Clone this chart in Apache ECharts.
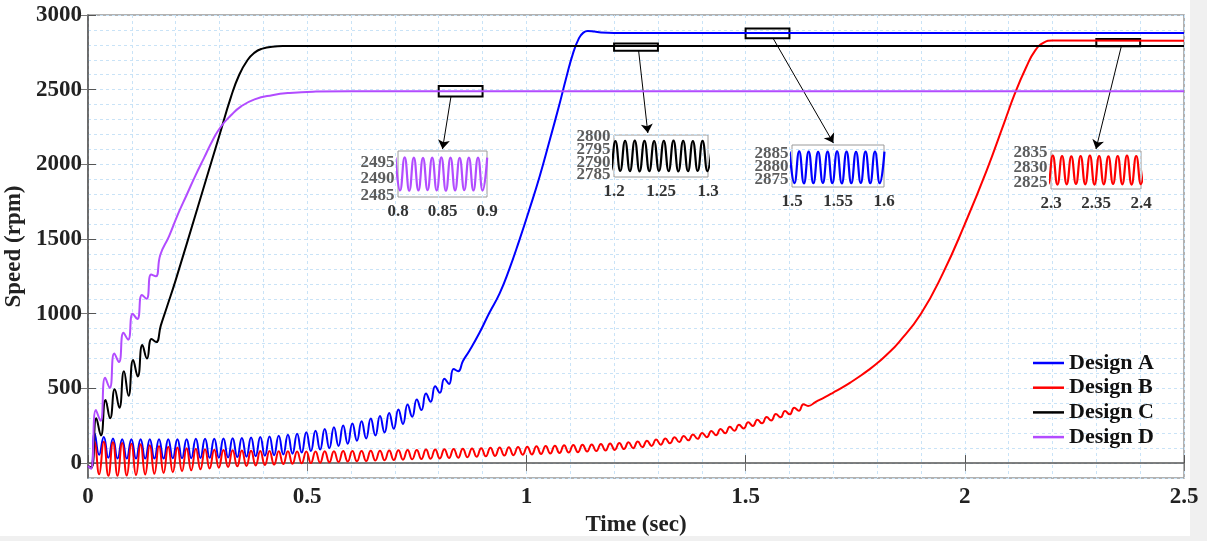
<!DOCTYPE html>
<html>
<head>
<meta charset="utf-8">
<script src="https://cdn.jsdelivr.net/npm/echarts@6/dist/echarts.min.js"></script>
<style>
  html, body { margin: 0; padding: 0; background: #fff; }
  #chart { width: 1207px; height: 541px; }
</style>
</head>
<body>
<div id="chart"></div>
<script>
var seriesNames = ['Design A', 'Design B', 'Design C', 'Design D'];
var seriesColors = ['#0000ff', '#ff0000', '#000000', '#b24cff'];

var xTickLabels = [0, 0.5, 1, 1.5, 2, 2.5];
var yTickLabels = [0, 500, 1000, 1500, 2000, 2500, 3000];

// ripple: the osc arrays hold one peak or trough every half period (s)
var halfPeriod = 0.0105;

// Design A
var designA_start = [[0, -20], [0.007, -32]];
var designA_oscT0 = 0.015;
var designA_osc = [200, 55, 175, 35, 165, 30, 160, 30, 160, 30, 160, 30, 160, 30, 160, 30,
  160, 32, 160, 32, 160, 33, 162, 34, 162, 35, 163, 36, 164, 38, 166, 40, 168, 43, 171, 46,
  174, 49, 178, 53, 183, 58, 190, 63, 197, 70, 207, 80, 217, 90, 228, 100, 240, 115, 252, 130,
  265, 150, 280, 165, 298, 185, 315, 205, 335, 230, 358, 262, 392, 310, 425, 355, 465, 410,
  515, 470, 565, 530, 630, 615, 682];
var designA_end = [[0.87, 752], [0.893, 872], [0.915, 1003], [0.939, 1136], [0.96, 1290],
  [0.984, 1493], [1.007, 1700], [1.03, 1917], [1.053, 2160], [1.076, 2409], [1.09, 2570],
  [1.106, 2740], [1.12, 2845], [1.13, 2882], [1.14, 2893], [1.155, 2889], [1.17, 2883],
  [1.2, 2880], [1.6, 2880], [2.5, 2880]];

// Design B
var designB_start = [[0, -20], [0.007, -35]];
var designB_oscT0 = 0.015;
var designB_osc = [145, -75, 143, -85, 139, -85, 135, -83, 130, -80, 126, -76, 120, -72,
  115, -67, 110, -61, 104, -54, 100, -48, 96, -41, 92, -36, 89, -31, 87, -26, 85, -22, 84, -19,
  82, -16, 80, -13, 80, -10, 79, -7, 79, -5, 78, -2, 78, 0, 78, 2, 79, 5, 79, 7, 80, 10, 80, 12,
  81, 14, 82, 17, 83, 19, 84, 21, 85, 23, 87, 25, 88, 27, 90, 29, 91, 31, 93, 34, 95, 36,
  96, 39, 98, 42, 100, 45, 102, 48, 104, 50, 106, 53, 108, 56, 110, 58, 112, 61, 114, 64,
  116, 67, 119, 70, 121, 73, 123, 77, 125, 80, 128, 84, 131, 88, 134, 94, 139, 100, 144, 107,
  150, 115, 157, 123, 164, 132, 173, 141, 182, 152, 192, 162, 202, 173, 215, 187, 228, 200,
  243, 216, 257, 231, 273, 248, 290, 266, 308, 285, 328, 306, 348, 326, 370, 350, 394, 382];
var designB_end = [[1.66, 410], [1.68, 440], [1.7, 472], [1.72, 505], [1.74, 541], [1.76, 580],
  [1.78, 622], [1.8, 668], [1.82, 720], [1.85, 810], [1.9, 1000], [1.95, 1270], [2.0, 1600],
  [2.05, 1960], [2.09, 2280], [2.115, 2480], [2.14, 2650], [2.16, 2760], [2.18, 2815],
  [2.2, 2829], [2.5, 2828]];

// Design C
var designC_start = [[0, -20], [0.008, -30]];
var designC_oscT0 = 0.019;
var designC_osc = [300, 185, 422, 300, 495, 370, 615, 450, 690, 580, 790, 700, 830, 810, 920];
var designC_end = [[0.18, 1045], [0.2, 1225], [0.25, 1710], [0.3, 2197], [0.326, 2450],
  [0.345, 2600], [0.364, 2699], [0.38, 2748], [0.395, 2772], [0.42, 2788], [0.45, 2792],
  [0.5, 2793], [2.5, 2793]];

// Design D
var designD_start = [[0, -20], [0.007, -38]];
var designD_oscT0 = 0.018;
var designD_osc = [355, 283, 572, 503, 734, 676, 872, 826, 1000, 964, 1126, 1100, 1262, 1250, 1395];
var designD_end = [[0.185, 1520], [0.205, 1665], [0.225, 1795], [0.245, 1925], [0.265, 2045],
  [0.285, 2165], [0.303, 2252], [0.325, 2325], [0.35, 2390], [0.38, 2435], [0.42, 2463],
  [0.46, 2478], [0.52, 2487], [0.6, 2490], [2.5, 2490]];

// zoomed windows (steady ripple), one value every inset step
var insetStep = 0.00515;
var insetD_t0 = 0.7972;
var insetD = [2496.5, 2486.5, 2496.6, 2486.4, 2496.5, 2486.5, 2496.4, 2486.6, 2496.5, 2486.5,
  2496.6, 2486.4, 2496.5, 2486.5, 2496.4, 2486.6, 2496.5, 2486.5, 2496.5, 2486.5, 2496.5];
var insetD_ticks = [2485, 2490, 2495];
var insetC_t0 = 1.1912;
var insetC = [2798.5, 2786.5, 2798.4, 2786.6, 2798.5, 2786.5, 2798.6, 2786.4, 2798.5, 2786.5,
  2798.4, 2786.6, 2798.5, 2786.5, 2798.6, 2786.4, 2798.5, 2786.5, 2798.4, 2786.6, 2798.5, 2786.5, 2798.5];
var insetC_ticks = [2785, 2790, 2795, 2800];
var insetA_t0 = 1.4975;
var insetA = [2886, 2873.5, 2886.1, 2873.4, 2886, 2873.5, 2885.9, 2873.6, 2886, 2873.5,
  2886.1, 2873.4, 2886, 2873.5, 2885.9, 2873.6, 2886, 2873.5, 2886, 2873.5, 2886];
var insetA_ticks = [2875, 2880, 2885];
var insetB_t0 = 2.2917;
var insetB = [2834, 2824.4, 2834.1, 2824.3, 2834, 2824.4, 2833.9, 2824.5, 2834, 2824.4,
  2834.1, 2824.3, 2834, 2824.4, 2833.9, 2824.5, 2834, 2824.4, 2834.1, 2824.3, 2834, 2824.4, 2834];
var insetB_ticks = [2825, 2830, 2835];

function buildCurve(start, t0, osc, end) {
  var pts = start.slice();
  osc.forEach(function (v, i) {
    pts.push([+(t0 + i * halfPeriod).toFixed(4), v]);
  });
  return pts.concat(end);
}

function buildInset(t0, vals) {
  return vals.map(function (v, i) { return [+(t0 + i * insetStep).toFixed(5), v]; });
}

function plain(v) { return String(v); }

var mainData = [
  buildCurve(designA_start, designA_oscT0, designA_osc, designA_end),
  buildCurve(designB_start, designB_oscT0, designB_osc, designB_end),
  buildCurve(designC_start, designC_oscT0, designC_osc, designC_end),
  buildCurve(designD_start, designD_oscT0, designD_osc, designD_end)
];

var FONT = "'Liberation Serif', 'Times New Roman', serif";
var gridColor = '#c9e3f7';

// inset layout: which design, window, pixel box, highlight rectangle and arrow anchor
var insets = [
  { s: 3, data: buildInset(insetD_t0, insetD), x: [0.8, 0.9], y: [2484.5, 2498.5], yLabels: insetD_ticks,
    box: { left: 398, top: 151, width: 89, height: 46 }, rect: [2455, 2525], from: [0.828, 2455], to: 0.85 },
  { s: 2, data: buildInset(insetC_t0, insetC), x: [1.2, 1.3], y: [2784.2, 2800.8], yLabels: insetC_ticks,
    box: { left: 614, top: 135, width: 94, height: 42 }, rect: [2760, 2810], from: [1.256, 2760], to: 1.236 },
  { s: 0, data: buildInset(insetA_t0, insetA), x: [1.5, 1.6], y: [2872, 2888.6], yLabels: insetA_ticks,
    box: { left: 792, top: 145, width: 92, height: 42 }, rect: [2845, 2910], from: [1.5625, 2845], to: 1.545 },
  { s: 1, data: buildInset(insetB_t0, insetB), x: [2.3, 2.4], y: [2822.8, 2835.7], yLabels: insetB_ticks,
    box: { left: 1051, top: 151, width: 90, height: 38 }, rect: [2790, 2840], from: [2.357, 2790], to: 2.35 }
];

var labelStyle = { fontFamily: FONT, fontWeight: 'bold', color: '#222' };

var grids = [{ left: 88, top: 15, right: 23, bottom: 63, show: true, borderColor: '#999', borderWidth: 1.5,
  outerBoundsMode: 'none', containLabel: false }];
var xAxes = [
  { gridIndex: 0, type: 'value', position: 'bottom', min: 0, max: 2.5, interval: 0.1,
    name: 'Time (sec)', nameLocation: 'middle', nameGap: 30,
    nameTextStyle: Object.assign({ fontSize: 23 }, labelStyle),
    axisLine: { lineStyle: { color: '#555', width: 1.5 } },
    axisTick: { inside: true, length: 8, customValues: xTickLabels, lineStyle: { color: '#555' } },
    axisLabel: Object.assign({ customValues: xTickLabels, fontSize: 23, margin: 8, formatter: plain }, labelStyle),
    splitLine: { show: false } },
  { gridIndex: 0, type: 'value', position: 'top', min: 0, max: 2.5, interval: 0.1,
    axisLine: { show: false }, axisLabel: { show: false }, splitLine: { show: false },
    axisTick: { inside: true, length: 8, customValues: xTickLabels, lineStyle: { color: '#777' } } },
  { gridIndex: 0, type: 'value', position: 'bottom', min: 0, max: 2.5, interval: 0.1,
    axisLine: { show: false }, axisTick: { show: false }, axisLabel: { show: false },
    splitLine: { show: true, lineStyle: { color: gridColor, type: [3, 3], width: 1 } } }
];
var yAxes = [
  { gridIndex: 0, type: 'value', position: 'left', min: -100, max: 3000, interval: 100,
    name: 'Speed (rpm)', nameLocation: 'middle', nameGap: 56, nameRotate: 90,
    nameTextStyle: Object.assign({ fontSize: 23 }, labelStyle),
    axisLine: { show: true, lineStyle: { color: '#555', width: 1.5 } },
    axisTick: { show: true, inside: true, length: 8, customValues: yTickLabels, lineStyle: { color: '#555' } },
    axisLabel: Object.assign({ customValues: yTickLabels, fontSize: 23, margin: 6, formatter: plain }, labelStyle),
    splitLine: { show: false } },
  { gridIndex: 0, type: 'value', position: 'right', min: -100, max: 3000, interval: 100,
    axisLine: { show: false }, axisLabel: { show: false }, splitLine: { show: false },
    axisTick: { show: true, inside: true, length: 8, customValues: yTickLabels, lineStyle: { color: '#777' } } },
  { gridIndex: 0, type: 'value', position: 'left', min: -100, max: 3000, interval: 100,
    axisLine: { show: false }, axisTick: { show: false }, axisLabel: { show: false },
    splitLine: { show: true, lineStyle: { color: gridColor, type: [3, 3], width: 1 } } }
];

var series = seriesNames.map(function (name, i) {
  return {
    id: 's' + i, name: name, type: 'line', xAxisIndex: 0, yAxisIndex: 0,
    data: mainData[i], showSymbol: false, symbol: 'none', smooth: 0.5,
    lineStyle: { color: seriesColors[i], width: 2 }, itemStyle: { color: seriesColors[i] },
    z: 3 + i
  };
});

insets.forEach(function (ins, k) {
  var gi = k + 1, ai = k + 3;
  grids.push(Object.assign({ show: true, borderColor: '#9a9a9a', borderWidth: 1, backgroundColor: 'transparent',
    outerBoundsMode: 'none', containLabel: false }, ins.box));
  xAxes.push({ gridIndex: gi, type: 'value', min: ins.x[0], max: ins.x[1], interval: 0.05,
    axisLine: { show: false }, axisTick: { show: false }, splitLine: { show: false },
    axisLabel: { fontSize: 17, margin: 6, color: '#333', fontFamily: FONT, fontWeight: 'bold',
      showMinLabel: true, showMaxLabel: true, hideOverlap: false } });
  yAxes.push({ gridIndex: gi, type: 'value', min: ins.y[0], max: ins.y[1],
    axisLine: { show: false }, axisTick: { show: false }, splitLine: { show: false },
    axisLabel: { show: false } });
  series.push({
    id: 'inset' + k, name: seriesNames[ins.s] + ' zoom', type: 'line', xAxisIndex: ai, yAxisIndex: ai,
    data: ins.data, showSymbol: false, symbol: 'none', smooth: 0.5, clip: true,
    lineStyle: { color: seriesColors[ins.s], width: 2.2 }, z: 10
  });
  // the stacked y tick labels of the zoom window, placed on its own scale at the left edge
  series.push({
    id: 'insetTicks' + k, name: 'ticks' + k, type: 'scatter', xAxisIndex: ai, yAxisIndex: ai,
    data: ins.yLabels.map(function (v) { return [ins.x[0], v]; }),
    symbolSize: 1, itemStyle: { color: 'rgba(0,0,0,0)' }, clip: false, silent: true, z: 11,
    label: { show: true, position: 'left', distance: 3, formatter: function (p) { return String(p.value[1]); },
      fontSize: 17, fontFamily: FONT, fontWeight: 'bold', color: '#333' },
    labelLayout: { hideOverlap: false }
  });
});

// highlight rectangles on the main axes
series[2].markArea = {
  silent: true,
  itemStyle: { color: 'rgba(0,0,0,0)', borderColor: '#000', borderWidth: 2 },
  data: insets.map(function (ins) {
    return [{ coord: [ins.x[0], ins.rect[0]] }, { coord: [ins.x[1], ins.rect[1]] }];
  })
};

var chart = echarts.init(document.getElementById('chart'));
chart.setOption({
  animation: false,
  backgroundColor: '#fff',
  grid: grids,
  xAxis: xAxes,
  yAxis: yAxes,
  legend: {
    data: seriesNames, orient: 'vertical', left: 1033, top: 352, padding: 0,
    icon: 'rect', itemWidth: 31, itemHeight: 2.5, itemGap: 2.7,
    textStyle: { fontFamily: FONT, fontWeight: 'bold', fontSize: 22, color: '#111', lineHeight: 22 }
  },
  // light grey figure margin at the right and bottom edges
  graphic: [
    { type: 'rect', right: 0, top: 0, shape: { width: 17, height: 541 }, style: { fill: '#f0f0f0' }, silent: true },
    { type: 'rect', left: 0, bottom: 0, shape: { width: 1207, height: 5 }, style: { fill: '#f0f0f0' }, silent: true }
  ],
  series: series
});

// arrows from each rectangle down to its zoomed window
var arrowData = insets.map(function (ins, k) {
  var p1 = chart.convertToPixel({ xAxisIndex: 0, yAxisIndex: 0 }, ins.from);
  var p2 = chart.convertToPixel({ xAxisIndex: k + 3, yAxisIndex: k + 3 }, [ins.to, ins.y[1]]);
  return [{ x: p1[0], y: p1[1] }, { x: p2[0], y: p2[1] - 2 }];
});
chart.setOption({
  series: [{
    id: 's2',
    markLine: {
      silent: true, animation: false, symbol: ['none', 'arrow'], symbolSize: 9,
      label: { show: false },
      lineStyle: { color: '#000', width: 1, type: 'solid' },
      data: arrowData
    }
  }]
});
</script>
</body>
</html>
